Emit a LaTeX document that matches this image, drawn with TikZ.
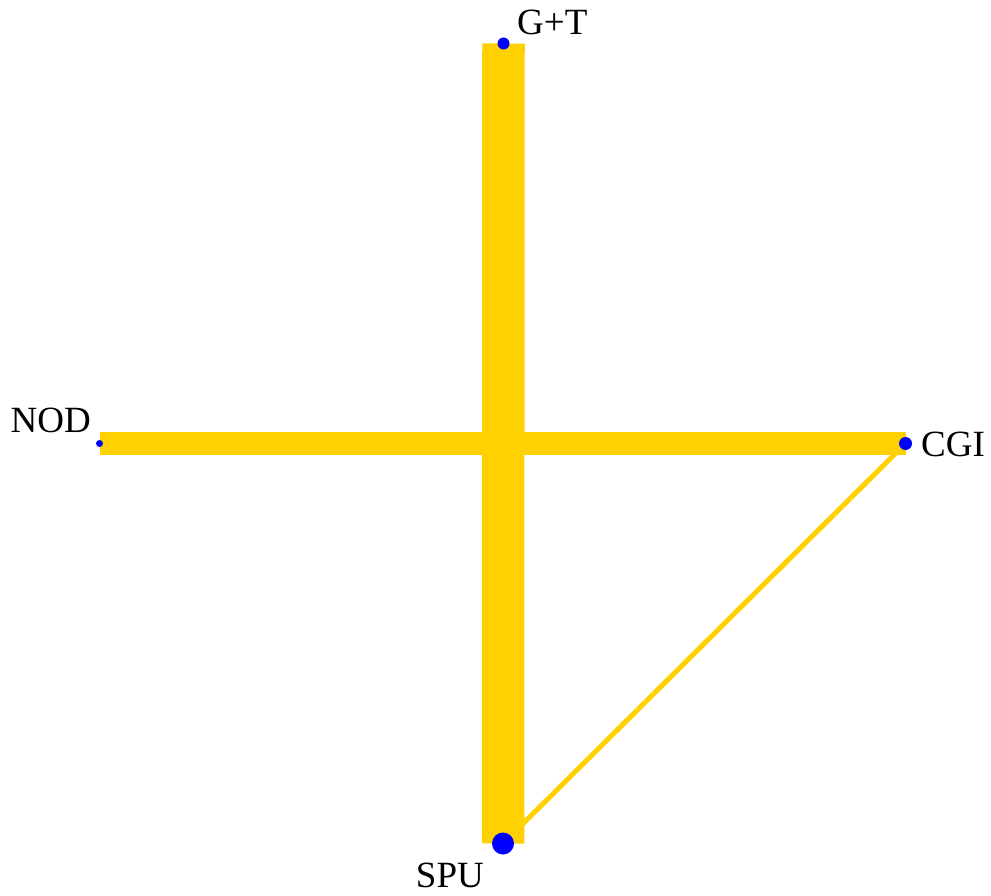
\documentclass[tikz,border=0pt]{standalone}
\usepackage{fontspec}
\setmainfont{Liberation Serif}
\definecolor{band}{RGB}{255,209,0}
\definecolor{dotblue}{RGB}{0,0,255}
\usetikzlibrary{positioning}

\begin{document}
\begin{tikzpicture}[x=1pt,y=-1pt,
    vtx/.style={circle,fill=dotblue,inner sep=0pt},
    lbl/.style={inner sep=0pt,font=\fontsize{37}{40}\selectfont},
    link/.style={band,line cap=butt}]
  \useasboundingbox (0,0) rectangle (991,896);
  % vertex positions
  \coordinate (gt)  at (503.5,43.5);
  \coordinate (nod) at (99.5,443.5);
  \coordinate (cgi) at (905.5,443.5);
  \coordinate (spu) at (503,843.5);
  % weighted links
  \draw[link,line width=5pt] (cgi) -- (spu);
  \draw[link,line width=23.5pt] (nod) -- (cgi);
  \draw[link,line width=42.5pt] (gt) -- (spu);
  % dots
  \node[vtx,minimum size=12pt] (gtdot)  at (gt)  {};
  \node[vtx,minimum size=7pt]  (noddot) at (nod) {};
  \node[vtx,minimum size=13pt] (cgidot) at (cgi) {};
  \node[vtx,minimum size=22pt] (spudot) at (spu) {};
  % labels
  \node[lbl,anchor=base west] (gtl)  at (517,35)  {G+T};
  \node[lbl,anchor=base east] (nodl) at (91,432)  {NOD};
  \node[lbl,anchor=base west] (cgil) at (921,456.5) {CGI};
  \node[lbl,anchor=base east] (spul) at (484,887) {SPU};
\end{tikzpicture}
\end{document}
